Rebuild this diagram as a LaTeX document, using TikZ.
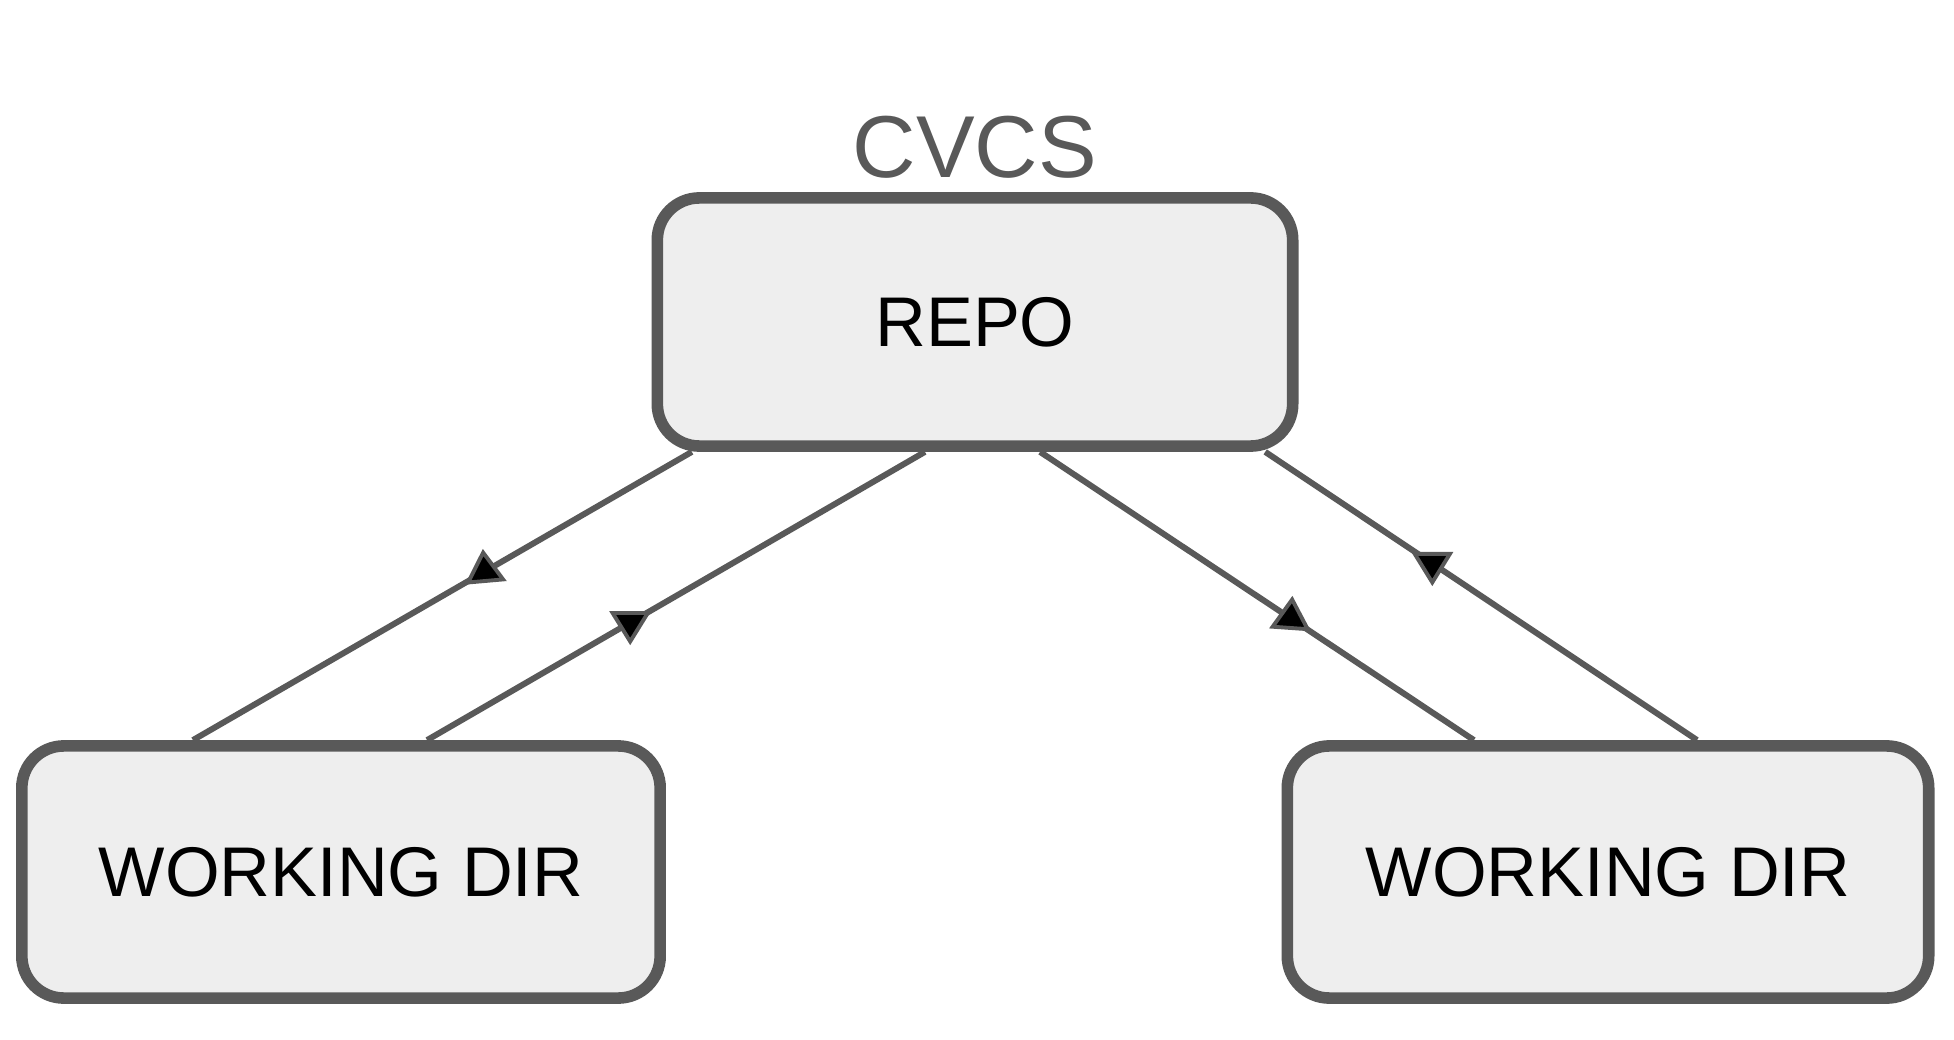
\documentclass[tikz,border=0pt]{standalone}
\usepackage{fontspec}
\setmainfont{Liberation Sans}
\usetikzlibrary{decorations.markings}
\definecolor{lineg}{HTML}{595959}
\definecolor{boxg}{HTML}{EEEEEE}
\tikzset{
  box/.style={draw=lineg, line width=3.3pt, fill=boxg, rounded corners=0.42cm,
    minimum width=6.35cm, minimum height=2.48cm, inner sep=0pt,
    font=\fontsize{20}{24}\selectfont, text=black},
  conn/.style={draw=lineg, line width=1.7pt},
  tri/.style={fill=black, draw=lineg, line width=1.1pt, line join=miter},
  midtri/.style 2 args={postaction={decorate}, decoration={markings,
    mark=at position #1 with {\pgftransformresetnontranslations
      \draw[tri, rotate=#2] (0pt,5.4pt) -- (-5pt,-2.7pt) -- (5pt,-2.7pt) -- cycle;}}}
}
\begin{document}
\begin{tikzpicture}[x=0.01cm, y=-0.01cm]
\useasboundingbox (0,0) rectangle (1954,1040);
\node[anchor=base, text=lineg, font=\fontsize{25}{30}\selectfont] (title) at (975,178) {CVCS};
\node[box] (repo) at (975,322) {REPO};
\node[box, minimum width=6.38cm, minimum height=2.52cm] (wd1) at (341,872) {WORKING DIR};
\node[box, minimum width=6.41cm, minimum height=2.52cm] (wd2) at (1608,872) {WORKING DIR};
\draw[conn, midtri={0.415}{5}] ([xshift=-2.83cm]repo.south) -- ([xshift=-1.48cm]wd1.north);
\draw[conn, midtri={0.592}{180}] ([xshift=-0.5cm]repo.south) -- ([xshift=0.86cm]wd1.north);
\draw[conn, midtri={0.578}{-4}] ([xshift=0.65cm]repo.south) -- ([xshift=-1.34cm]wd2.north);
\draw[conn, midtri={0.387}{180}] ([xshift=2.9cm]repo.south) -- ([xshift=0.89cm]wd2.north);
\end{tikzpicture}
\end{document}
